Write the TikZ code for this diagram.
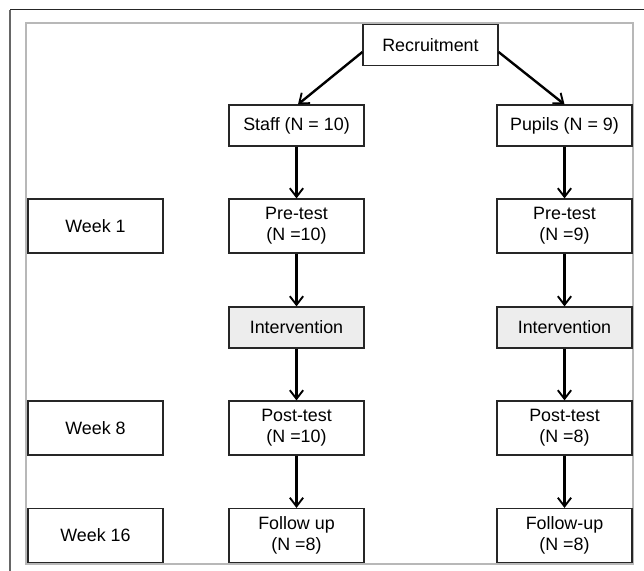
\documentclass[tikz,border=0pt]{standalone}
\usepackage{fontspec}
\setmainfont{Liberation Sans}
\usetikzlibrary{arrows.meta,calc}
\begin{document}
\begin{tikzpicture}[x=0.75pt,y=-0.75pt,
  box/.style={draw=black!85,line width=0.9pt,fill=white,minimum width=101.25pt,
    align=center,inner sep=0pt,font=\fontsize{13.4}{15.8}\selectfont},
  onebox/.style={box,minimum height=30.75pt},
  twobox/.style={box,minimum height=40.5pt},
  grey/.style={fill=black!7},
  flow/.style={draw=black,line width=1.8pt,-{Straight Barb[length=6.5pt,width=10pt,line width=1.4pt]}}]
\useasboundingbox (0,0) rectangle (644,571);
\fill[white] (0,0) rectangle (644,571);
% frames
\draw[black!85,line width=1.2pt] (10,9.5) -- (644,9.5);
\draw[black!60,line width=1.6pt] (10,9.5) -- (10,571);
\draw[black!28,line width=0.8pt] (26,23) rectangle (633,564);
% nodes
\node[onebox] (rec) at (430.5,45) {Recruitment};
\node[onebox] (staff) at (296.5,125.5) {Staff (N = 10)};
\node[onebox] (pupils) at (564.5,125.5) {Pupils (N = 9)};
\node[twobox] (w1) at (95.5,226) {Week 1};
\node[twobox] (pre1) at (296.5,226) {Pre-test\\(N =10)};
\node[twobox] (pre2) at (564.5,226) {Pre-test\\(N =9)};
\node[onebox,grey] (int1) at (296.5,327.5) {Intervention};
\node[onebox,grey] (int2) at (564.5,327.5) {Intervention};
\node[twobox] (w8) at (95.5,428) {Week 8};
\node[twobox] (post1) at (296.5,428) {Post-test\\(N =10)};
\node[twobox] (post2) at (564.5,428) {Post-test\\(N =8)};
\node[twobox] (w16) at (95.5,535.5) {Week 16};
\node[twobox] (fu1) at (296.5,535.5) {Follow up\\(N =8)};
\node[twobox] (fu2) at (564.5,535.5) {Follow-up\\(N =8)};
% connectors
\draw[flow] ($(rec.west)+(0,7)$) -- ($(staff.north)+(1.5,0)$);
\draw[flow] ($(rec.east)+(0,7)$) -- (pupils.north);
\draw[flow] (staff) -- (pre1);
\draw[flow] (pre1) -- (int1);
\draw[flow] (int1) -- (post1);
\draw[flow] (post1) -- (fu1);
\draw[flow] (pupils) -- (pre2);
\draw[flow] (pre2) -- (int2);
\draw[flow] (int2) -- (post2);
\draw[flow] (post2) -- (fu2);
\end{tikzpicture}
\end{document}
